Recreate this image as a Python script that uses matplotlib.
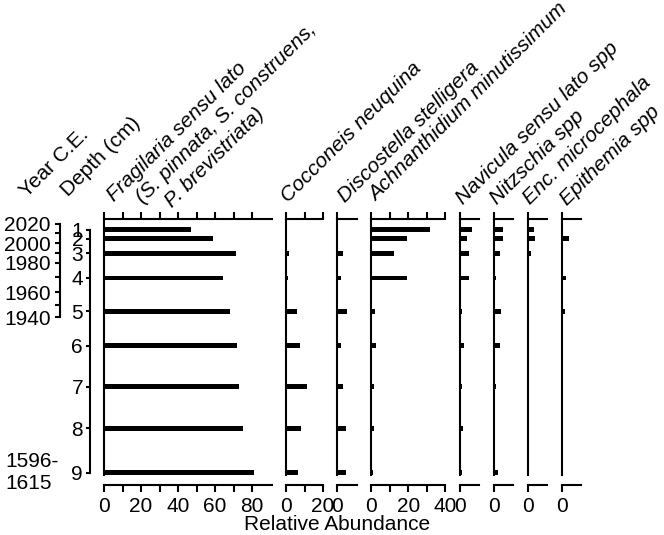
import matplotlib
matplotlib.use("Agg")
import matplotlib.pyplot as plt
from matplotlib import transforms

plt.rcParams['font.family'] = ['Liberation Sans', 'DejaVu Sans']
plt.rcParams['font.size'] = 15

# sample levels (depth axis) and age ticks
depth_labels = ['1', '2', '3', '4', '5', '6', '7', '8', '9']
sample_depth = [0.5, 2.3, 5.3, 10.3, 17.1, 24.1, 32.5, 41.0, 50.0]
year_ticks = [2020, 2010, 2000, 1990, 1980, 1970, 1960, 1950, 1940]
year_depth = [-0.7, 1.1, 3.2, 5.2, 7.2, 10.1, 13.2, 15.8, 18.3]
basal_age = '1596-\n1615'

# relative abundance (%) per taxon, samples 1..9
fragilaria = [47, 59, 71, 64, 68, 72, 73, 75, 81]
cocconeis = [0, 0, 1.4, 0.9, 5.7, 7.3, 11.6, 7.9, 6.5]
discostella = [0, 0, 2.9, 2.2, 5.4, 2.2, 2.9, 4.9, 4.5]
achnanthidium = [31.8, 19, 12.2, 19, 2.2, 2.7, 1.6, 1.6, 0.7]
navicula = [6.5, 3.9, 5, 5, 1.2, 2.3, 1, 1.8, 1.2]
nitzschia = [4.9, 4.9, 3.4, 1.4, 4, 3.4, 1.3, 0, 2.3]
encyonema = [3.4, 3.9, 1.8, 0.5, 0, 0, 0.6, 0, 0]
epithemia = [0.9, 3.9, 0, 2.2, 1.6, 0.9, 0, 0, 0]

taxa_names = [
    ['Fragilaria sensu lato', '(S. pinnata, S. construens,', 'P. brevistriata)'],
    ['Cocconeis neuquina'],
    ['Discostella stelligera'],
    ['Achnanthidium minutissimum'],
    ['Navicula sensu lato spp'],
    ['Nitzschia spp'],
    ['Enc. microcephala'],
    ['Epithemia spp'],
]
taxa_values = [fragilaria, cocconeis, discostella, achnanthidium,
               navicula, nitzschia, encyonema, epithemia]
panel_max = [90.5, 20, 10.6, 40, 10.6, 10.6, 10.6, 10.6]
panel_ticks = [
    ([0, 10, 20, 30, 40, 50, 60, 70, 80], ['0', '', '20', '', '40', '', '60', '', '80']),
    ([0, 10, 20], ['0', '', '20']),
    ([0], ['0']),
    ([0, 10, 20, 30, 40], ['0', '', '20', '', '40']),
    ([0], ['0']),
    ([0], ['0']),
    ([0], ['0']),
    ([0], ['0']),
]
# label placement (pixels right of / above each panel's top-left corner)
label_dx = [[10, 39, 68], [2], [8], [5], [3], [4], [3], [6]]
label_dy = [[17, 15, 11], [16], [16], [17], [14], [14], [14], [13]]

W, H = 664, 535
fig = plt.figure(figsize=(W / 100, H / 100), dpi=100)

def px_axes(x0, y0, x1, y1):
    return fig.add_axes([x0 / W, 1 - y1 / H, (x1 - x0) / W, (y1 - y0) / H])

TOP, BOTTOM = 219, 475
YLIM = (50.5, -1.7)
PX_PER_UNIT = 1.853
GAP = 14.3
LW = 1.5

x = 104
for names, vals, xmax, (ticks, tlabels), dxs, dys in zip(
        taxa_names, taxa_values, panel_max, panel_ticks, label_dx, label_dy):
    w = xmax * PX_PER_UNIT
    ax = px_axes(x, TOP, x + w, BOTTOM)
    ax.barh(sample_depth, vals, height=0.95, color='black')
    ax.set_xlim(0, xmax)
    ax.set_ylim(*YLIM)
    ax.spines['right'].set_visible(False)
    for s in ['left', 'top', 'bottom']:
        ax.spines[s].set_linewidth(LW)
    ax.spines['bottom'].set_position(('outward', 7.2))
    ax.set_yticks([])
    ax.set_xticks(ticks)
    ax.set_xticklabels(tlabels)
    ax.tick_params(axis='x', top=True, bottom=True, direction='out',
                   length=5, width=LW, labelsize=15, pad=4)
    for line, dx, dy in zip(names, dxs, dys):
        tr = transforms.offset_copy(ax.transAxes, fig=fig, x=dx, y=dy, units='dots')
        ax.text(0, 1, line, transform=tr, rotation=45, rotation_mode='anchor',
                ha='left', va='baseline', style='italic', fontsize=15)
    x += w + GAP

fig.text(337 / W, 1 - 525 / H, 'Relative Abundance', ha='center', va='center', fontsize=15)

# depth axis
axd = px_axes(90, TOP, 91, BOTTOM)
axd.set_ylim(*YLIM)
for s in ['right', 'top', 'bottom']:
    axd.spines[s].set_visible(False)
axd.spines['left'].set_linewidth(LW)
axd.spines['left'].set_bounds(sample_depth[0], sample_depth[-1])
axd.set_xticks([])
axd.set_yticks(sample_depth)
axd.set_yticklabels(depth_labels)
axd.tick_params(axis='y', direction='out', length=3, width=LW, labelsize=15, pad=2)
axd.patch.set_visible(False)

# age axis
axy = px_axes(60, TOP, 61, BOTTOM)
axy.set_ylim(*YLIM)
for s in ['right', 'top', 'bottom']:
    axy.spines[s].set_visible(False)
axy.spines['left'].set_linewidth(LW)
axy.spines['left'].set_bounds(year_depth[0], year_depth[-1])
axy.set_xticks([])
axy.set_yticks(year_depth)
axy.set_yticklabels([str(y) if y % 20 == 0 else '' for y in year_ticks])
axy.tick_params(axis='y', direction='out', length=3.6, width=LW, labelsize=15, pad=3)
axy.patch.set_visible(False)
tr = transforms.blended_transform_factory(fig.transFigure, axy.transData)
axy.text(5 / W, sample_depth[-1], basal_age, transform=tr, ha='left', va='center',
         fontsize=15, linespacing=1.15)

fig.text(27 / W, 1 - 198 / H, 'Year C.E.', rotation=45, rotation_mode='anchor',
         ha='left', va='baseline', fontsize=15)
fig.text(68 / W, 1 - 197 / H, 'Depth (cm)', rotation=45, rotation_mode='anchor',
         ha='left', va='baseline', fontsize=15)

fig.savefig('out.png', dpi=100)
